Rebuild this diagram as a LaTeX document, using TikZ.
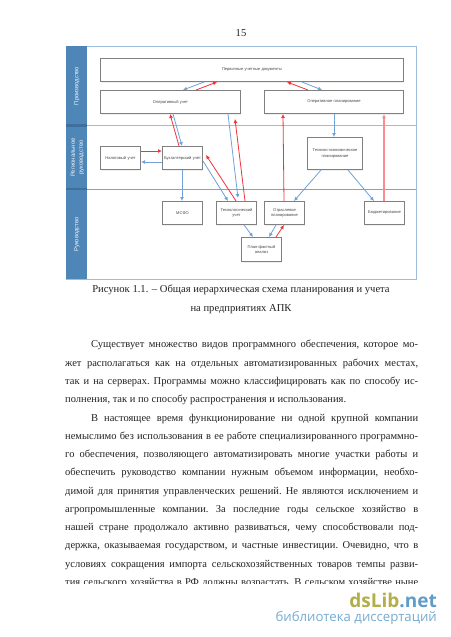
\documentclass[tikz,border=0pt]{standalone}
\usepackage{fontspec}
\setmainfont{Liberation Serif}
\newfontfamily\diagfont{Liberation Sans}
\newfontfamily\markfont{Open Sans}
\usetikzlibrary{arrows.meta,shadows}
\definecolor{lanecol}{HTML}{4F86B8}
\definecolor{lanedark}{HTML}{3F6F9C}
\definecolor{framecol}{HTML}{9DBDDD}
\definecolor{boxcol}{HTML}{808080}
\definecolor{flowblue}{HTML}{6FA3D8}
\definecolor{flowred}{HTML}{F2333A}
\definecolor{flowpale}{HTML}{FA8C8F}
\definecolor{markgreen}{HTML}{B4AE4A}
\definecolor{markblue}{HTML}{5F9CC9}
\definecolor{inkcol}{HTML}{222222}
\tikzset{
  x=1pt,y=-1pt,
  >={Latex[length=4pt,width=4pt]},
  box/.style={draw=boxcol,line width=1pt,fill=white,inner sep=0pt,anchor=north west,align=center,
    drop shadow={opacity=0.12,shadow xshift=0.5pt,shadow yshift=-1pt},
    font=\diagfont\fontsize{4.05}{5.6}\selectfont,text=black!72},
  lanetext/.style={rotate=90,text=white!92!lanecol,align=center,inner sep=0pt,font=\diagfont\fontsize{5.9}{8}\selectfont},
  bline/.style={anchor=base west,inner sep=0pt,text=inkcol,font=\fontsize{10.5}{12}\selectfont},
  capline/.style={anchor=base,inner sep=0pt,text=inkcol,font=\fontsize{10.6}{12}\selectfont},
  bl/.style={->,draw=flowblue,line width=0.8pt},
  rd/.style={->,draw=flowred,line width=0.8pt},
  pl/.style={->,draw=flowpale,line width=1.2pt},
}
\newcommand{\wbox}[6]{\node[box,minimum width=#4pt,minimum height=#5pt,text width=#4pt] (#1) at (#2,#3) {#6};}
\newcommand{\fullline}[3]{\node[bline] (#1) at (65,#2) {\hbox to 353pt{#3}};}
\newcommand{\indline}[3]{\node[bline] (#1) at (91,#2) {\hbox to 327pt{#3}};}
\begin{document}
\begin{tikzpicture}
\useasboundingbox (0,0) rectangle (450,637);
\fill[white] (0,0) rectangle (450,637);
\node[capline] (pg) at (241,36) {15};

% frame and lanes
\draw[framecol,line width=0.9pt] (66,46) rectangle (416,279);
\fill[lanecol] (66,46) rectangle (87,279);
\draw[framecol,line width=0.9pt] (87,125) -- (416,125);
\draw[framecol!85!black,line width=0.9pt] (87,189) -- (416,189);
\fill[lanedark] (66,124) rectangle (87,126.5);
\fill[lanedark] (66,188.4) rectangle (87,189.6);
\node[lanetext] (l1) at (77,86) {Производство};
\node[lanetext] (l2) at (77.5,157.5) {Региональное\\руководство};
\node[lanetext] (l3) at (77,234.5) {Руководство};

% boxes
\wbox{perv}{100}{58}{303}{23}{Первичные учетные документы}
\wbox{opu}{100}{90}{140}{23}{Оперативный учет}
\wbox{opp}{264}{90}{139}{23}{Оперативное планирование}
\wbox{nal}{100}{146}{40}{23}{Налоговый учет}
\wbox{buh}{162}{146}{40}{23}{Бухгалтерский учет}
\wbox{te}{307}{137}{55}{32}{Технико-экономическое\\планирование}
\wbox{msfo}{162}{201}{40}{23}{МСФО}
\wbox{tech}{216}{201}{40}{23}{Технологический\\учет}
\wbox{otr}{264}{201}{40}{23}{Отраслевое\\планирование}
\wbox{bud}{364}{201}{40}{23}{Бюджетирование}
\wbox{plan}{241}{237}{40}{24}{План-фактный\\анализ}

% connectors
\draw[bl] ([xshift=104pt]perv.south west) -- ([xshift=83pt]opu.north west);
\draw[rd] ([xshift=96pt]opu.north west) -- ([xshift=117pt]perv.south west);
\draw[rd] ([xshift=44pt]opp.north west) -- ([xshift=187pt]perv.south west);
\draw[bl] ([xshift=202pt]perv.south west) -- ([xshift=58pt]opp.north west);
\draw[rd] ([xshift=17pt]buh.north west) -- ([xshift=70pt]opu.south west);
\draw[bl] ([xshift=73pt]opu.south west) -- ([xshift=20pt]buh.north west);
\draw[bl] ([xshift=128pt]opu.south west) -- ([xshift=22pt,yshift=3pt]tech.north west);
\draw[rd] ([xshift=29pt]tech.north west) -- ([xshift=135pt,yshift=-5pt]opu.south west);
\draw[rd] ([xshift=20pt]otr.north west) -- ([xshift=19pt]opp.south west);
\draw[pl] ([xshift=20pt]bud.north west) -- ([xshift=120pt]opp.south west);
\draw[bl] ([xshift=70pt]opp.south west) -- ([xshift=27pt]te.north west);
\draw[bl] ([xshift=14pt]te.south west) -- ([xshift=30pt]otr.north west);
\draw[bl] ([xshift=41pt]te.south west) -- ([xshift=10pt]bud.north west);
\draw[rd] ([yshift=-5pt]nal.north east) -- ([yshift=-5pt]buh.north west);
\draw[bl] ([yshift=8pt]buh.south west) -- ([yshift=8pt]nal.south east);
\draw[bl] ([xshift=20pt]buh.south west) -- ([xshift=20pt]msfo.north west);
\draw[bl] ([yshift=9pt]buh.south east) -- ([xshift=12pt]tech.north west);
\draw[rd] ([xshift=20pt]tech.north west) -- ([xshift=3pt,yshift=-9pt]buh.north east);
\draw[bl] ([xshift=28pt]tech.south west) -- ([xshift=12pt]plan.north west);
\draw[bl] ([xshift=12pt]otr.south west) -- ([xshift=28pt]plan.north west);
\draw[rd] ([xshift=35pt]plan.north west) -- ([xshift=20pt]otr.south west);

% caption
\node[capline] (cap1) at (241,292) {Рисунок 1.1. – Общая иерархическая схема планирования и учета};
\node[capline] (cap2) at (241,311) {на предприятиях АПК};

% body
\indline{t1}{347}{Существует\hfil множество\hfil видов\hfil программного\hfil обеспечения,\hfil которое\hfil мо-}
\fullline{t2}{366}{жет\hfil располагаться\hfil как\hfil на\hfil отдельных\hfil автоматизированных\hfil рабочих\hfil местах,}
\fullline{t3}{384}{так\hfil и\hfil на\hfil серверах.\hfil Программы\hfil можно\hfil классифицировать\hfil как\hfil по\hfil способу\hfil ис-}
\node[bline] (t4) at (65,402) {полнения, так и по способу распространения и использования.};
\indline{t5}{421}{В\hfil настоящее\hfil время\hfil функционирование\hfil ни\hfil одной\hfil крупной\hfil компании}
\fullline{t6}{439}{немыслимо\hfil без\hfil использования\hfil в\hfil ее\hfil работе\hfil специализированного\hfil программно-}
\fullline{t7}{457}{го\hfil обеспечения,\hfil позволяющего\hfil автоматизировать\hfil многие\hfil участки\hfil работы\hfil и}
\fullline{t8}{475}{обеспечить\hfil руководство\hfil компании\hfil нужным\hfil объемом\hfil информации,\hfil необхо-}
\fullline{t9}{494}{димой\hfil для\hfil принятия\hfil управленческих\hfil решений.\hfil Не\hfil являются\hfil исключением\hfil и}
\fullline{t10}{512}{агропромышленные\hfil компании.\hfil За\hfil последние\hfil годы\hfil сельское\hfil хозяйство\hfil в}
\fullline{t11}{530}{нашей\hfil стране\hfil продолжало\hfil активно\hfil развиваться,\hfil чему\hfil способствовали\hfil под-}
\fullline{t12}{548}{держка,\hfil оказываемая\hfil государством,\hfil и\hfil частные\hfil инвестиции.\hfil Очевидно,\hfil что\hfil в}
\fullline{t13}{567}{условиях\hfil сокращения\hfil импорта\hfil сельскохозяйственных\hfil товаров\hfil темпы\hfil разви-}
\fullline{t14}{585}{тия\hfil сельского\hfil хозяйства\hfil в\hfil РФ\hfil должны\hfil возрастать.\hfil В\hfil сельском\hfil хозяйстве\hfil ныне}
\fill[white] (60,583.5) rectangle (425,592);

% watermark
\node[anchor=base east,inner sep=0pt,font=\markfont\bfseries\fontsize{19}{20}\selectfont] (wm1) at (437,607)
  {\textcolor{markgreen}{dsLib}\textcolor{markblue}{.net}};
\node[anchor=base east,inner sep=0pt,text=markblue!85,font=\markfont\fontsize{13.2}{14}\selectfont] (wm2) at (437,621.5)
  {библиотека диссертаций};
\end{tikzpicture}
\end{document}
